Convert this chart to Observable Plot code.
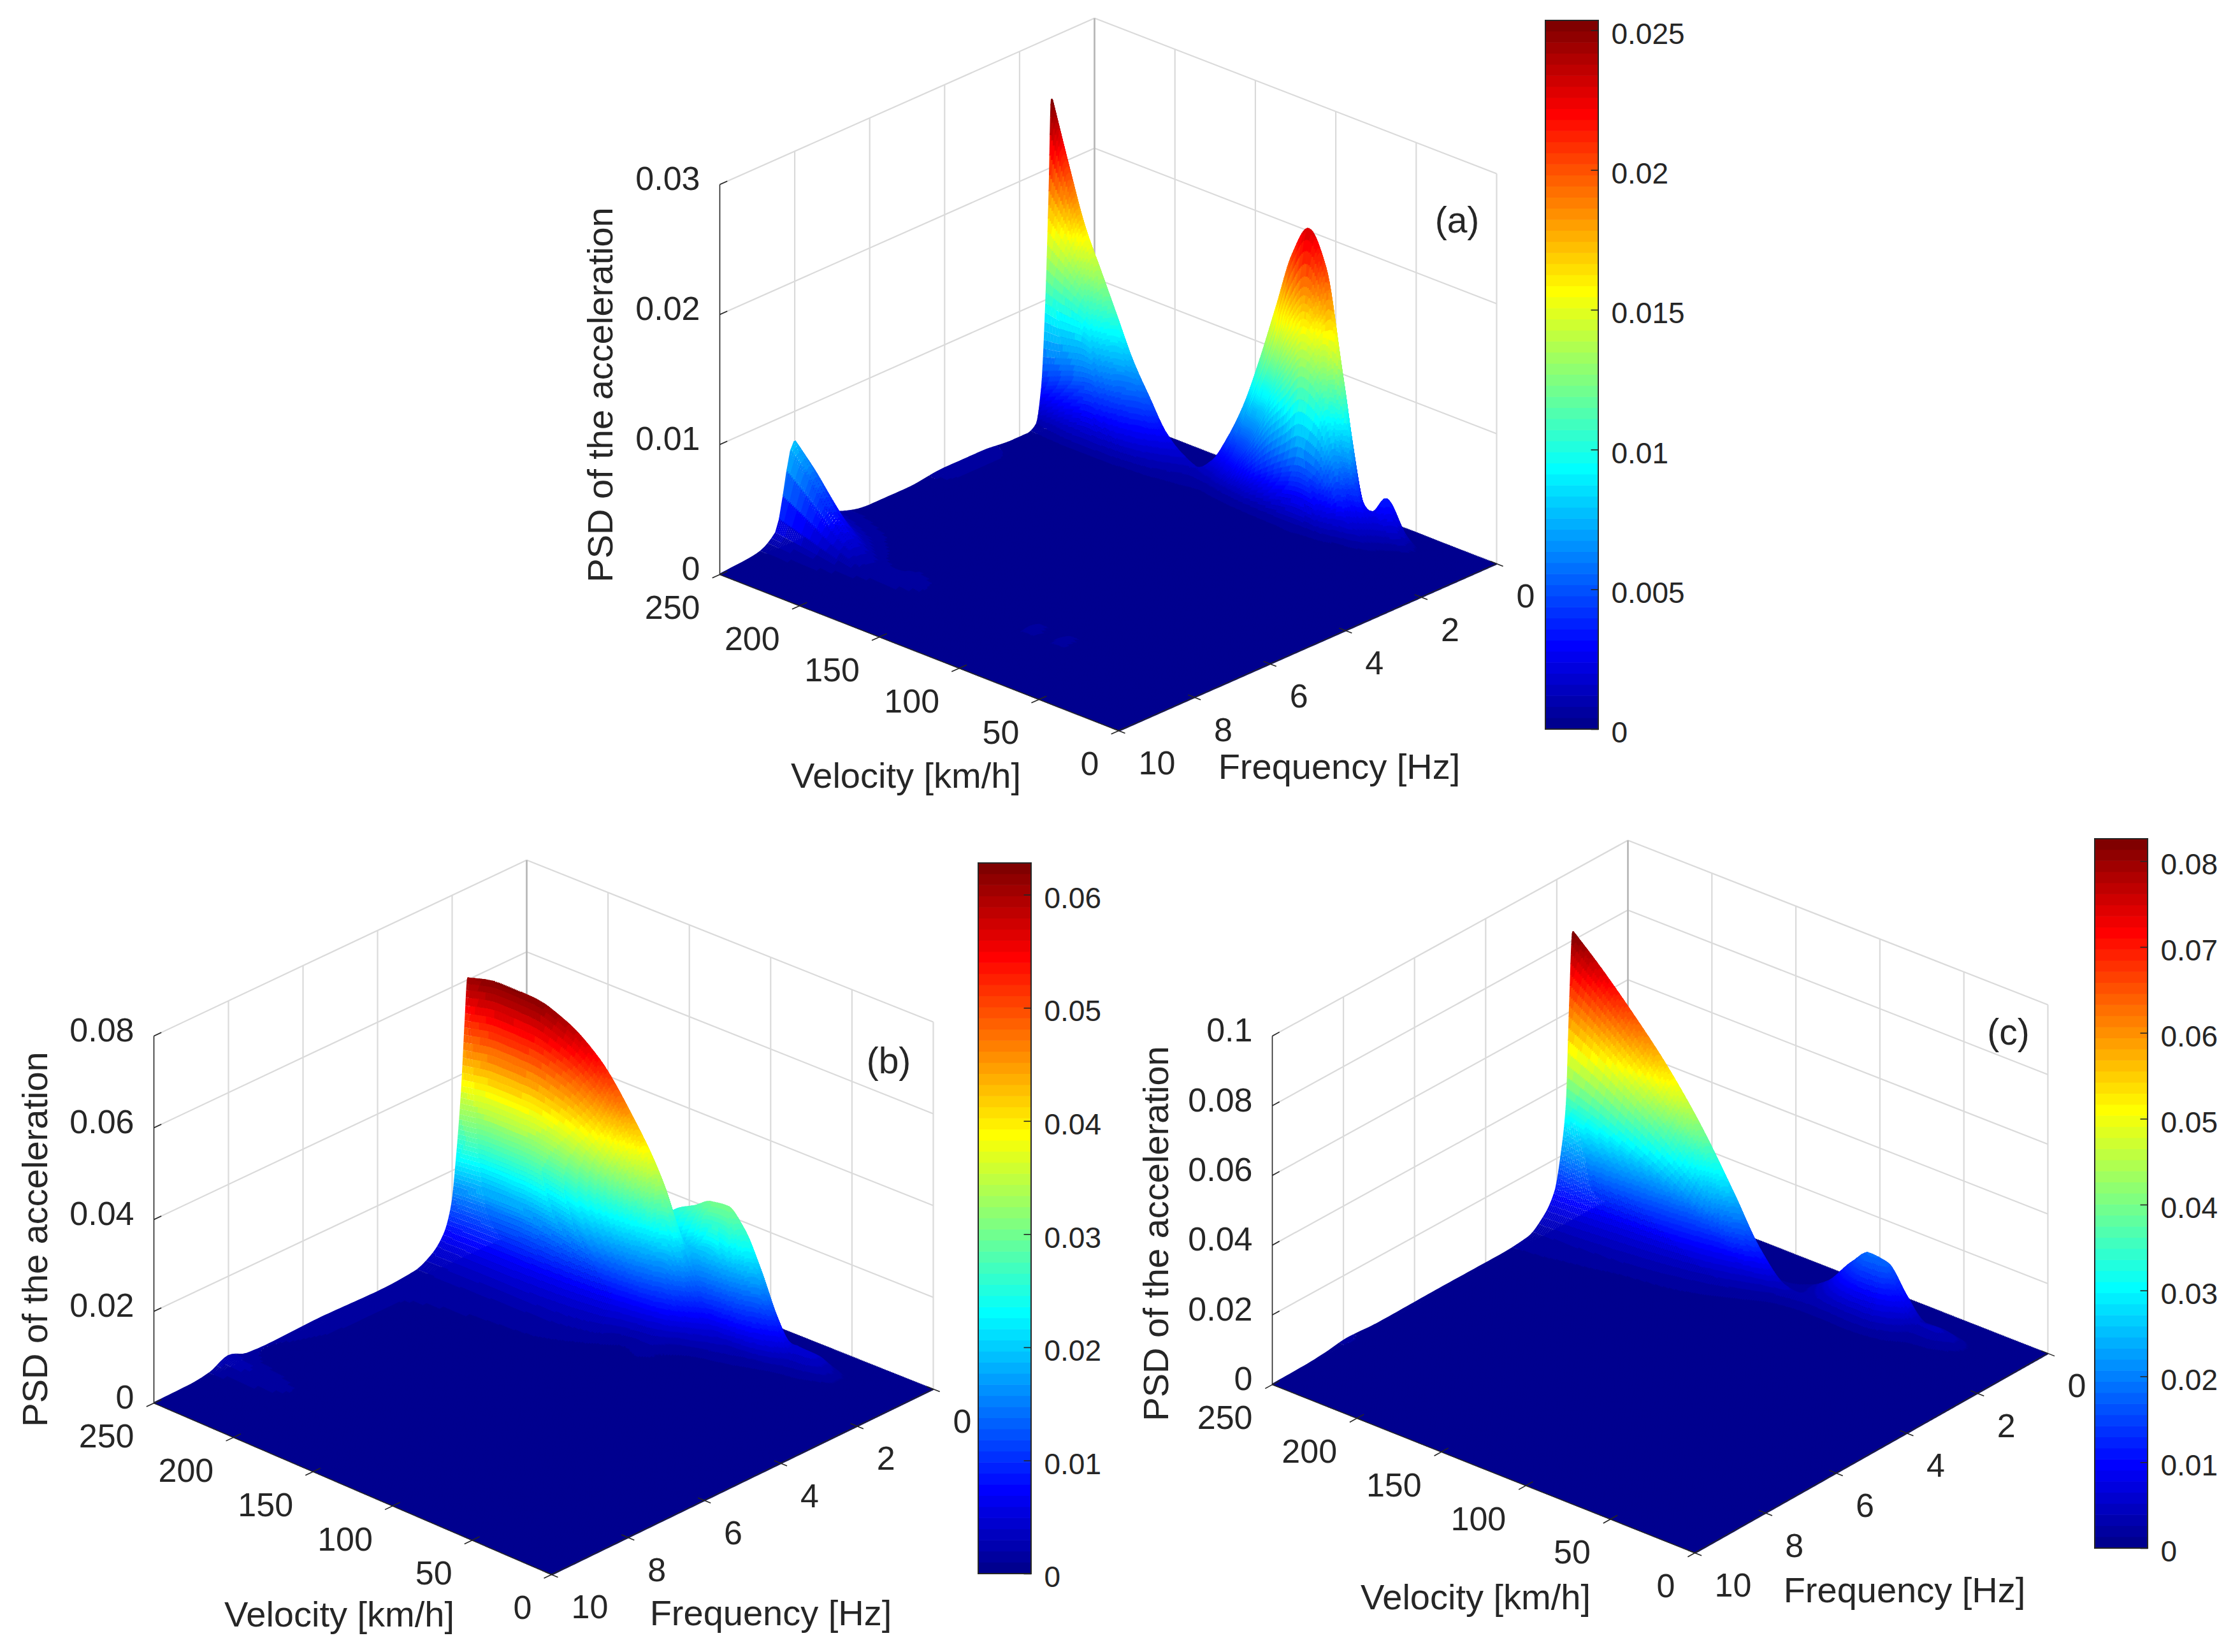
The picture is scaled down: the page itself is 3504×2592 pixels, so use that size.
<!DOCTYPE html>
<html><head><meta charset="utf-8">
<script src="https://cdn.jsdelivr.net/npm/d3@7"></script>
<script src="https://cdn.jsdelivr.net/npm/@observablehq/plot@0.6"></script>
<style>html,body{margin:0;background:#fff}#chart{position:relative;width:3504px;height:2592px;overflow:hidden}#chart svg{position:absolute;background:transparent}</style>
</head><body><div id="chart"></div>
<script>
// ---------- values: PSD at velocity columns (km/h) and frequency rows (Hz)
const velocityA = [250,240,230,220,210,200,190,180,170,160,150,140,130,120,110,100,90,80,70,60,50,40,30,20,10,0];
const frequencyA = [0,.5,.8,1,1.14,1.2,1.3,1.4,1.55,1.8,2.2,3,4,5,6,7,7.6,8,8.5,9,10];
const psdA = [
[0,0,0,0,0,0,0,0,0,0,0,0,0,0,0,0,0,0,0,0,0,0,0,0,0,0],
[.0003,.0003,.0002,.0002,.0001,.0001,0,0,0,0,0,.0001,.0001,.0002,.0002,.0003,.0003,.0003,.0004,.0003,.0006,.0002,0,0,0,0],
[.003,.0025,.002,.0016,.0012,.0009,.0006,.0004,.0002,.0001,.0002,.0005,.0009,.0014,.0019,.0024,.0027,.0032,.0042,.0012,.0036,.0014,.0002,0,0,0],
[.0138,.0114,.0091,.0074,.0058,.0041,.0029,.0017,.001,.0007,.0012,.0025,.0041,.0063,.0088,.0113,.0126,.0118,.0095,.003,.0022,.0006,.0001,0,0,0],
[.0252,.0207,.0165,.0135,.0105,.0075,.0052,.003,.0018,.0012,.0022,.0045,.0075,.0115,.016,.0205,.0229,.0205,.0128,.0042,.0012,.0003,0,0,0,0],
[.0182,.0162,.0138,.0115,.0092,.0068,.0048,.0028,.0016,.0011,.0017,.0033,.0058,.0088,.0125,.0165,.0185,.0165,.01,.0032,.0009,.0002,0,0,0,0],
[.009,.0088,.0088,.0082,.0068,.005,.0036,.0021,.0012,.0008,.001,.002,.0036,.0058,.0085,.0105,.0125,.0115,.0075,.0022,.0007,.0001,0,0,0,0],
[.0034,.004,.0045,.0048,.0042,.0034,.0025,.0015,.0009,.0006,.0006,.0009,.0015,.0024,.0032,.004,.0045,.0042,.0025,.0008,.0003,0,0,0,0,0],
[.0007,.0011,.0015,.0017,.0016,.0014,.0011,.0008,.0005,.0004,.0003,.0004,.0005,.0006,.0007,.0008,.0008,.0007,.0005,.0002,.0001,0,0,0,0,0],
[.0003,.0003,.0003,.0003,.0003,.0003,.0002,.0002,.0002,.0001,.0001,.0001,.0002,.0002,.0002,.0002,.0003,.0002,.0002,.0001,0,0,0,0,0,0],
[.0003,.0003,.0002,.0002,.0002,.0001,.0001,.0001,.0001,.0001,.0001,.0001,.0001,.0001,.0001,.0001,.0001,.0001,.0001,0,0,0,0,0,0,0],
[.0005,.0004,.0003,.0002,.0002,.0001,.0001,.0001,0,0,0,0,0,0,0,0,0,0,0,0,0,0,0,0,0,0],
[.0005,.0004,.0003,.0002,.0001,.0001,0,0,0,0,0,0,0,0,0,0,0,0,0,0,0,0,0,0,0,0],
[.0002,.0002,.0001,.0001,.0001,0,0,0,0,0,0,0,0,0,0,0,0,0,0,0,0,0,0,0,0,0],
[.0002,.0002,.0001,.0001,0,0,0,0,0,0,0,0,0,0,0,0,0,0,0,0,0,0,0,0,0,0],
[.001,.0009,.0007,.0005,.0003,.0002,.0002,.0001,.0001,.0001,0,0,0,0,0,0,0,0,0,0,0,0,0,0,0,0],
[.0035,.003,.002,.0014,.0008,.0004,.0003,.0004,.0003,.0001,0,0,0,0,0,.0003,.0001,.0003,0,0,0,0,0,0,0,0],
[.0077,.0062,.0045,.0028,.0016,.0008,.0005,.0007,.0005,.0002,0,0,0,0,0,.0006,.0002,.0006,0,0,0,0,0,0,0,0],
[.0013,.0011,.0009,.0007,.0005,.0004,.0003,.0002,.0001,0,0,0,0,0,0,0,0,0,0,0,0,0,0,0,0,0],
[.0003,.0003,.0002,.0002,.0001,.0001,0,0,0,0,0,0,0,0,0,0,0,0,0,0,0,0,0,0,0,0],
[0,0,0,0,0,0,0,0,0,0,0,0,0,0,0,0,0,0,0,0,0,0,0,0,0,0]];

const velocityB = [250,230,210,190,170,150,130,120,110,100,90,80,70,60,50,40,30,20,10,0];
const frequencyB = [0,.6,1,1.15,1.3,1.57,1.64,1.73,1.86,2,2.2,2.55,3,4,5.5,7,7.5,8,8.5,9,10];
const psdB = [
[0,0,0,0,0,0,0,0,0,0,0,0,0,0,0,0,0,0,0,0],
[.0005,.0006,.0006,.0005,.0005,.0004,.0003,.0004,.0005,.0006,.0006,.0005,.0004,.0004,.0005,.0003,.0001,0,0,0],
[.006,.0062,.0062,.006,.0054,.0085,.012,.013,.015,.015,.0135,.01,.0055,.0045,.0043,.0022,.0004,.0001,0,0],
[.0125,.013,.013,.0125,.0115,.018,.0255,.0275,.0298,.0303,.0268,.0195,.0105,.004,.0035,.002,.0004,.0001,0,0],
[.0241,.0248,.0247,.0238,.0217,.018,.017,.019,.02,.019,.0165,.012,.0065,.0025,.0018,.0008,.0002,0,0,0],
[.0603,.0619,.0617,.0594,.0543,.045,.0325,.022,.01,.005,.003,.002,.0012,.0008,.0005,.0002,.0001,0,0,0],
[.0513,.0527,.0525,.0506,.0462,.0383,.0276,.0187,.0085,.0043,.0026,.0017,.001,.0007,.0004,.0002,.0001,0,0,0],
[.0374,.0384,.0383,.0369,.0337,.0279,.0202,.0136,.0062,.0031,.0019,.0012,.0007,.0005,.0003,.0001,0,0,0,0],
[.0235,.0242,.0241,.0232,.0212,.0176,.0127,.0086,.0039,.002,.0012,.0008,.0005,.0003,.0002,.0001,0,0,0,0],
[.0127,.013,.013,.0125,.0114,.0095,.0066,.0046,.0021,.0011,.0007,.0004,.0003,.0002,.0001,0,0,0,0,0],
[.0071,.0073,.0073,.007,.0064,.0053,.003,.0026,.0012,.0006,.0004,.0002,.0001,.0001,0,0,0,0,0,0],
[.0036,.0037,.0037,.0036,.0033,.0025,.001,.0013,.0006,.0003,.0002,.0001,0,0,0,0,0,0,0,0],
[.0018,.0018,.0017,.0016,.0015,.001,.0004,.0005,.0002,.0001,.0001,0,0,0,0,0,0,0,0,0],
[.0012,.0009,.0007,.0006,.0005,.0003,.0002,.0002,.0001,0,0,0,0,0,0,0,0,0,0,0],
[.0014,.0008,.0005,.0003,.0002,.0002,.0001,0,0,0,0,0,0,0,0,0,0,0,0,0],
[.001,.0006,.0004,.0002,.0002,.0001,.0001,0,0,0,0,0,0,0,0,0,0,0,0,0],
[.0012,.0008,.0005,.0003,.0002,.0001,.0001,0,0,0,0,0,0,0,0,0,0,0,0,0],
[.0026,.0018,.001,.0005,.0003,.0002,.0001,0,0,0,0,0,0,0,0,0,0,0,0,0],
[.0008,.0006,.0004,.0002,.0001,0,0,0,0,0,0,0,0,0,0,0,0,0,0,0],
[.0002,.0002,.0001,0,0,0,0,0,0,0,0,0,0,0,0,0,0,0,0,0],
[0,0,0,0,0,0,0,0,0,0,0,0,0,0,0,0,0,0,0,0]];

const velocityC = [250,235,215,195,175,155,140,125,110,95,85,75,65,55,45,35,25,15,0];
const frequencyC = [0,.6,1,1.3,1.54,1.63,1.72,1.86,2.04,2.37,2.81,3.64,5,7,7.9,8.5,9,10];
const psdC = [
[0,0,0,0,0,0,0,0,0,0,0,0,0,0,0,0,0,0,0],
[.0004,.0004,.0003,.0003,.0002,.0001,.0001,.0001,.0002,.0006,.0012,.0012,.001,.0006,.0006,.0004,.0001,0,0],
[.0058,.0054,.0046,.0038,.0029,.0017,.0009,.0015,.0055,.014,.0183,.0175,.0105,.004,.0042,.003,.0006,.0001,0],
[.0288,.0265,.023,.0191,.0145,.0089,.0044,.0018,.004,.008,.0095,.009,.0055,.0022,.002,.001,.0002,0,0],
[.0823,.0756,.0656,.0546,.0414,.0254,.0125,.0045,.003,.0032,.0035,.0033,.0022,.001,.0005,.0002,0,0,0],
[.0614,.0567,.0492,.041,.031,.019,.0094,.0034,.0022,.0023,.0025,.0024,.0016,.0007,.0004,.0001,0,0,0],
[.034,.0318,.0276,.0229,.0174,.0107,.0053,.0019,.0014,.0014,.0015,.0014,.001,.0005,.0002,.0001,0,0,0],
[.0208,.0191,.0164,.0137,.0104,.0064,.0031,.0012,.001,.001,.001,.0009,.0007,.0003,.0001,0,0,0,0],
[.0108,.01,.0085,.0071,.0054,.0033,.0016,.0007,.0006,.0007,.0007,.0006,.0004,.0002,.0001,0,0,0,0],
[.0051,.0047,.004,.0033,.0024,.0014,.0007,.0004,.0003,.0004,.0004,.0003,.0002,.0001,0,0,0,0,0],
[.0018,.0017,.0015,.0012,.0009,.0005,.0003,.0002,.0002,.0002,.0002,.0001,.0001,0,0,0,0,0,0],
[.0011,.001,.0008,.0007,.0005,.0003,.0002,.0001,.0001,.0001,0,0,0,0,0,0,0,0,0],
[.0011,.0007,.0004,.0003,.0002,.0001,.0001,0,0,0,0,0,0,0,0,0,0,0,0],
[.0009,.0005,.0003,.0002,.0001,.0001,0,0,0,0,0,0,0,0,0,0,0,0,0],
[.0014,.001,.0006,.0003,.0002,.0001,0,0,0,0,0,0,0,0,0,0,0,0,0],
[.0006,.0004,.0002,.0001,0,0,0,0,0,0,0,0,0,0,0,0,0,0,0],
[.0002,.0001,0,0,0,0,0,0,0,0,0,0,0,0,0,0,0,0,0],
[0,0,0,0,0,0,0,0,0,0,0,0,0,0,0,0,0,0,0]];

const velocityTicks = [250,200,150,100,50,0];
const frequencyTicks = [0,2,4,6,8,10];
const zTicksA = [0,.01,.02,.03];
const zTicksB = [0,.02,.04,.06,.08];
const zTicksC = [0,.02,.04,.06,.08,.1];
const colorTicksA = [0,.005,.01,.015,.02,.025];
const colorTicksB = [0,.01,.02,.03,.04,.05,.06];
const colorTicksC = [0,.01,.02,.03,.04,.05,.06,.07,.08];

// ---------- layout of each panel
const panels = [
 {tag:"(a)",tagAt:[2286,346],velocity:velocityA,frequency:frequencyA,psd:psdA,zTicks:zTicksA,colorTicks:colorTicksA,cmax:.02535,
  box:[900,2700,0,1285],left:[1129,901],front:[1755,1146],right:[2348,884],back:[1717,640],zPx:20400,
  bar:[2425,2508,32,1144],vLabel:[1421,1218],fLabel:[2101,1204],zLabel:[943,619]},
 {tag:"(b)",tagAt:[1394,1665],velocity:velocityB,frequency:frequencyB,psd:psdB,zTicks:zTicksB,colorTicks:colorTicksB,cmax:.0628,
  box:[0,1770,1285,2592],left:[241,2201],front:[865,2470],right:[1464,2179],back:[826,1925],zPx:7200,
  bar:[1535,1618,1354,2469],vLabel:[532,2534],fLabel:[1209,2532],zLabel:[56,1944]},
 {tag:"(c)",tagAt:[3151,1620],velocity:velocityC,frequency:frequencyC,psd:psdC,zTicks:zTicksC,colorTicks:colorTicksC,cmax:.0826,
  box:[1770,3504,1285,2592],left:[1996,2172],front:[2659,2436],right:[3213,2123],back:[2554,1865],zPx:5470,
  bar:[3287,3370,1316,2429],vLabel:[2315,2507],fLabel:[2988,2496],zLabel:[1815,1935]}
];

// jet colormap, 64 levels as in the figure
const jetRamp = d3.scaleLinear().domain([0,.111,.365,.619,.873,1])
  .range(["#00008f","#0000ff","#00ffff","#ffff00","#ff0000","#800000"]);
const jet64 = d3.range(64).map(i => d3.rgb(jetRamp(i/63)).formatHex());

// drawing-only: smooth surface through the read values (monotone cubic)
function monotone(xs, ys){
  const n = xs.length, h = [], s = [], m = new Array(n);
  for(let i=0;i<n-1;i++){ h[i]=xs[i+1]-xs[i]; s[i]=(ys[i+1]-ys[i])/h[i]; }
  m[0]=s[0]; m[n-1]=s[n-2];
  for(let i=1;i<n-1;i++){
    if(s[i-1]*s[i]<=0) m[i]=0;
    else { const a=(2*h[i]+h[i-1])/(3*(h[i]+h[i-1])), b=(h[i]+2*h[i-1])/(3*(h[i]+h[i-1])); m[i]=1/(a/s[i-1]+b/s[i]); }
  }
  const bis = d3.bisector(d=>d).right;
  return x => {
    const i = Math.max(0, Math.min(n-2, bis(xs,x)-1)), t=(x-xs[i])/h[i];
    const t2=t*t,t3=t2*t;
    return (2*t3-3*t2+1)*ys[i]+(t3-2*t2+t)*h[i]*m[i]+(-2*t3+3*t2)*ys[i+1]+(t3-t2)*h[i]*m[i+1];
  };
}
const drawFreqs = [...d3.range(0,1,.03),...d3.range(1,2.5,.01),...d3.range(2.5,3.5,.03),...d3.range(3.5,10.001,.1)];
const drawVels = d3.range(250,-.01,-1);

function panelPlot(p){
  const project = (v,f,z=0) => {
    const s=v/250,t=f/10;
    const x=s*((1-t)*p.back[0]+t*p.left[0])+(1-s)*((1-t)*p.right[0]+t*p.front[0]);
    const y=s*((1-t)*p.back[1]+t*p.left[1])+(1-s)*((1-t)*p.right[1]+t*p.front[1]);
    return [x,y-z*p.zPx];
  };
  const vAsc=[...p.velocity].reverse();
  const rowFns=p.psd.map(r=>monotone(vAsc,[...r].reverse()));
  const mesh=[];
  let prev=null;
  for(const v of drawVels){
    const fn=monotone(p.frequency,rowFns.map(g=>g(v)));
    const zs=drawFreqs.map(f=>Math.max(0,fn(f)));
    if(prev){ // close the gaps between neighbouring profiles on steep flanks
      let open=false;
      drawFreqs.forEach((f,i)=>{
        if(Math.abs(zs[i]-prev[i])*p.zPx>.7){
          const a=project(v+1,f,prev[i]),b=project(v,f,zs[i]);
          mesh.push({v,x:a[0],y:a[1],z:prev[i]},{v,x:b[0],y:b[1],z:zs[i]});
          open=true;
        } else if(open){ mesh.push({v,x:NaN,y:NaN,z:0}); open=false; }
      });
      if(open) mesh.push({v,x:NaN,y:NaN,z:0});
    }
    drawFreqs.forEach((f,i)=>{ const [x,y]=project(v,f,zs[i]); mesh.push({v,x,y,z:zs[i]}); });
    prev=zs;
  }
  const zTop=p.zTicks[p.zTicks.length-1];
  const seg=(a,b)=>{const A=project(...a),B=project(...b);return {x1:A[0],y1:A[1],x2:B[0],y2:B[1]};};
  const grid=[
    ...frequencyTicks.filter(f=>f<10).map(f=>seg([250,f,0],[250,f,zTop])),
    ...velocityTicks.filter(v=>v<250).map(v=>seg([v,0,0],[v,0,zTop])),
    ...p.zTicks.flatMap(z=>[seg([250,10,z],[250,0,z]),seg([250,0,z],[0,0,z])])
  ];
  const spine=[seg([250,0,0],[250,0,zTop])];
  const floor=[p.back,p.left,p.front,p.right].map(([x,y])=>({x,y}));
  const axes=[seg([250,10,0],[250,10,zTop]),seg([250,10,0],[0,10,0]),seg([0,10,0],[0,0,0]),
    ...velocityTicks.map(v=>seg([v,9.8,0],[v,10.2,0])),
    ...frequencyTicks.map(f=>seg([4,f,0],[-4,f,0])),
    ...p.zTicks.map(z=>seg([250,10,z],[250,9.8,z]))];
  const [bx1,bx2,by1,by2]=p.bar;
  const barY=d3.scaleLinear().domain([0,p.cmax]).range([by2,by1]);
  const thresholds=d3.range(1,64).map(i=>i*p.cmax/64);
  const levels=d3.range(64).map(i=>({z:(i+.5)*p.cmax/64,y1:barY(i*p.cmax/64),y2:barY((i+1)*p.cmax/64)+(i<63?-.6:0)}));
  const font={fill:"#262626",lineAnchor:"middle"};
  const W=p.box[1]-p.box[0],H=p.box[3]-p.box[2];
  const plot=Plot.plot({
    width:W,height:H,margin:0,
    style:{fontFamily:"'Liberation Sans',Arial,sans-serif",background:"transparent"},
    x:{domain:[p.box[0],p.box[1]],range:[0,W],axis:null},
    y:{domain:[p.box[2],p.box[3]],range:[0,H],axis:null},
    color:{type:"threshold",domain:thresholds,range:jet64,legend:false},
    marks:[
      Plot.link(grid,{x1:"x1",y1:"y1",x2:"x2",y2:"y2",stroke:"#dadada",strokeWidth:2.2}),
      Plot.link(spine,{x1:"x1",y1:"y1",x2:"x2",y2:"y2",stroke:"#b5b5b5",strokeWidth:2.5}),
      Plot.line(floor,{x:"x",y:"y",fill:jet64[0],stroke:"none"}),
      Plot.line(mesh,{x:"x",y:"y",z:"v",stroke:"z",strokeWidth:3,strokeLinecap:"butt"}),
      Plot.link(axes,{x1:"x1",y1:"y1",x2:"x2",y2:"y2",stroke:"#262626",strokeWidth:1.6}),
      Plot.text(p.zTicks,{x:z=>project(250,10,z)[0],y:z=>project(250,10,z)[1],text:z=>String(z),textAnchor:"end",dx:-31,dy:-8,fontSize:52,...font}),
      Plot.text(velocityTicks,{x:v=>project(v,10)[0],y:v=>project(v,10)[1],text:v=>String(v),textAnchor:"end",dx:-31,dy:53,fontSize:52,...font}),
      Plot.text(frequencyTicks,{x:f=>project(0,f)[0],y:f=>project(0,f)[1],text:f=>String(f),textAnchor:"start",dx:31,dy:52,fontSize:52,...font}),
      Plot.text([p.tag],{x:()=>p.tagAt[0],y:()=>p.tagAt[1],text:d=>d,fontSize:57,...font}),
      Plot.text(["Velocity [km/h]"],{x:()=>p.vLabel[0],y:()=>p.vLabel[1],text:d=>d,fontSize:56,...font}),
      Plot.text(["Frequency [Hz]"],{x:()=>p.fLabel[0],y:()=>p.fLabel[1],text:d=>d,fontSize:56,...font}),
      Plot.text(["PSD of the acceleration"],{x:()=>p.zLabel[0],y:()=>p.zLabel[1],text:d=>d,rotate:-90,fontSize:56,...font}),
      Plot.rect(levels,{x1:()=>bx1,x2:()=>bx2,y1:"y1",y2:"y2",fill:"z"}),
      Plot.rect([0],{x1:()=>bx1,x2:()=>bx2,y1:()=>by1,y2:()=>by2,fill:"none",stroke:"#262626",strokeWidth:2}),
      Plot.link(p.colorTicks,{x1:()=>bx2-12,x2:()=>bx2,y1:z=>barY(z),y2:z=>barY(z),stroke:"#262626",strokeWidth:1.6}),
      Plot.text(p.colorTicks,{x:()=>bx2,y:z=>barY(z),text:z=>String(z),textAnchor:"start",dx:20,dy:6,fontSize:46,...font})
    ]
  });
  plot.style.left=p.box[0]+"px"; plot.style.top=p.box[2]+"px";
  return plot;
}
const host=document.getElementById("chart");
for(const p of panels) host.appendChild(panelPlot(p));
</script></body></html>
